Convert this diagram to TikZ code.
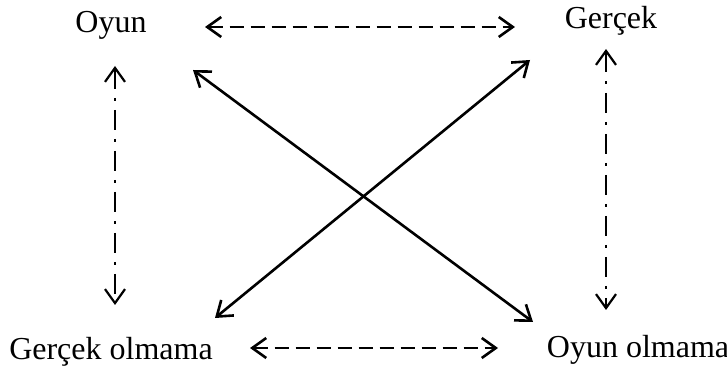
\documentclass[tikz,border=0pt]{standalone}
\usepackage{fontspec}
\setmainfont{Liberation Serif}
\usetikzlibrary{arrows.meta}

\begin{document}
\begin{tikzpicture}[
x=0.5pt, y=-0.5pt,
every node/.style={inner sep=0pt, anchor=base, font=\fontsize{16}{19}\selectfont},
link/.style={draw, line width=1.3pt, {Straight Barb[length=7pt,width=10pt]}-{Straight Barb[length=7pt,width=10pt]}},
dashlink/.style={link, dash pattern=on 7pt off 3.5pt},
dotlink/.style={link, line width=1.1pt, dash pattern=on 10pt off 4.5pt on 1.5pt off 4.5pt}
]
\useasboundingbox (0,0) rectangle (727,367);

% labels
\node (oyun) at (111,33) {Oyun};
\node (gercek) at (611,29) {Gerçek};
\node (gercekolmama) at (111,360) {Gerçek olmama};
\node (oyunolmama) at (638,358) {Oyun olmama};

% arrow ends
\coordinate (oyun-e) at (205,27);
\coordinate (gercek-w) at (515,27);
\coordinate (oyun-s) at (115,66);
\coordinate (gercekolmama-n) at (115,305);
\coordinate (gercek-s) at (606,49);
\coordinate (oyunolmama-n) at (606,310);
\coordinate (gercekolmama-e) at (250,348);
\coordinate (oyunolmama-w) at (498,348);
\coordinate (oyun-se) at (193,70);
\coordinate (oyunolmama-nw) at (533,322);
\coordinate (gercek-sw) at (530,60);
\coordinate (gercekolmama-ne) at (215,318);

\draw[dashlink] (oyun-e) -- (gercek-w);
\draw[dashlink] (gercekolmama-e) -- (oyunolmama-w);
\draw[dotlink] (oyun-s) -- (gercekolmama-n);
\draw[dotlink] (gercek-s) -- (oyunolmama-n);
\draw[link] (oyun-se) -- (oyunolmama-nw);
\draw[link] (gercek-sw) -- (gercekolmama-ne);

\end{tikzpicture}
\end{document}
